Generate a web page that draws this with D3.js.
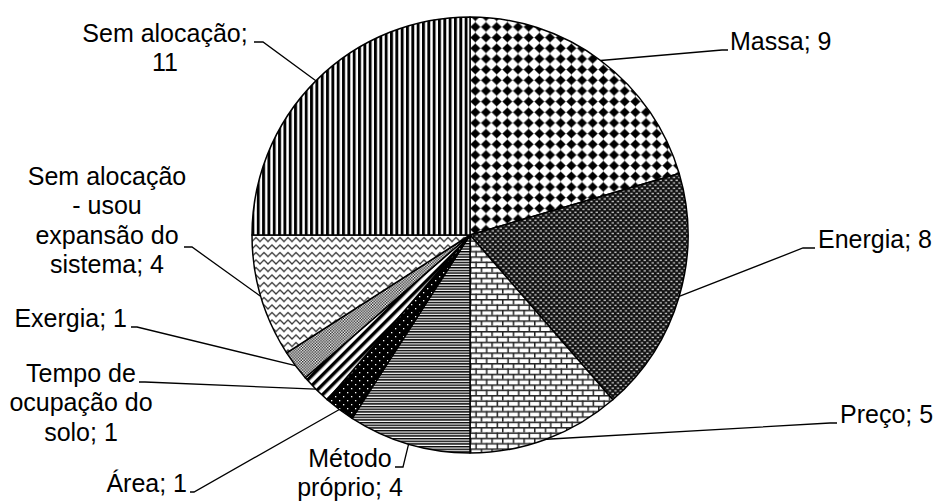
<!DOCTYPE html>
<html>
<head>
<meta charset="utf-8">
<script src="https://cdn.jsdelivr.net/npm/d3@7"></script>
<style>
  html, body { margin: 0; padding: 0; background: #fff; }
  svg { display: block; }
  text { font-family: "Liberation Sans", Arial, sans-serif; font-size: 25px; fill: #000; }
</style>
</head>
<body>
<svg id="chart" width="936" height="503"></svg>
<script>
// Allocation methods and number of studies using each
const categories = [
  "Massa", "Energia", "Preço", "Método próprio", "Área",
  "Tempo de ocupação do solo", "Exergia",
  "Sem alocação - usou expansão do sistema", "Sem alocação"
];
const values = [9, 8, 5, 4, 1, 1, 1, 4, 11];

// Label wording, split into lines; {v} is replaced by the slice value
const labelWrap = [
  ["Massa; {v}"],
  ["Energia; {v}"],
  ["Preço; {v}"],
  ["Método", "próprio; {v}"],
  ["Área; {v}"],
  ["Tempo de", "ocupação do", "solo; {v}"],
  ["Exergia; {v}"],
  ["Sem alocação", "- usou", "expansão do", "sistema; {v}"],
  ["Sem alocação;", "{v}"]
];

// Fill pattern for each slice
const patternIds = ["diamond", "darkweave", "brick", "hlines", "darkdots",
                    "diag", "checker", "wave", "vlines"];

// Label placement: text anchor point, first baseline, leader elbow and end
const labelLayout = [
  { x: 730, y: 50,  anchor: "start",  elbow: [722, 50],  end: [728, 50] },
  { x: 818, y: 248, anchor: "start",  elbow: [803, 248], end: [815, 248] },
  { x: 840, y: 423, anchor: "start",  elbow: [830, 423], end: [837, 423] },
  { x: 350, y: 467, anchor: "middle", elbow: [403, 467], end: [395, 467] },
  { x: 187, y: 492, anchor: "end",    elbow: [194, 492], end: [190, 492] },
  { x: 81,  y: 382, anchor: "middle", elbow: [145, 382], end: [139, 382] },
  { x: 127, y: 327, anchor: "end",    elbow: [137, 327], end: [131, 327] },
  { x: 107, y: 185, anchor: "middle", elbow: [192, 247], end: [184, 247] },
  { x: 165, y: 42,  anchor: "middle", elbow: [263, 42],  end: [254, 42] }
];
const lineStep = 29.4;

const svg = d3.select("#chart");
const cx = 470, cy = 235, radius = 218;

// ---- pattern definitions ----
const defs = svg.append("defs");
function pat(id, w, h, transform) {
  const p = defs.append("pattern").attr("id", id)
    .attr("patternUnits", "userSpaceOnUse").attr("width", w).attr("height", h);
  if (transform) p.attr("patternTransform", transform);
  return p;
}
// solid diamonds
{
  const p = pat("diamond", 10.67, 10.67);
  p.append("rect").attr("width", 10.67).attr("height", 10.67).attr("fill", "#fff");
  p.append("path").attr("d", "M5.33,0V10.67M0,5.33H10.67").attr("stroke", "#888").attr("stroke-width", 0.8);
  p.append("path").attr("d", "M5.33,1.3L9.36,5.33L5.33,9.36L1.3,5.33Z")
    .attr("fill", "#000").attr("stroke", "#000").attr("stroke-width", 1.2).attr("stroke-linejoin", "round");
}
// dark weave
{
  const p = pat("darkweave", 5.33, 5.33);
  p.append("rect").attr("width", 5.33).attr("height", 5.33).attr("fill", "#111");
  p.append("rect").attr("x", 0.4).attr("y", 0.6).attr("width", 2.2).attr("height", 1.3).attr("fill", "#ddd");
  p.append("rect").attr("x", 3.07).attr("y", 3.27).attr("width", 2.2).attr("height", 1.3).attr("fill", "#ddd");
}
// horizontal brick
{
  const p = pat("brick", 10.67, 10.67);
  p.append("rect").attr("width", 10.67).attr("height", 10.67).attr("fill", "#fff");
  p.append("rect").attr("x", 0).attr("y", 0).attr("width", 10.67).attr("height", 1.5).attr("fill", "#222");
  p.append("rect").attr("x", 0).attr("y", 5.33).attr("width", 10.67).attr("height", 1.5).attr("fill", "#222");
  p.append("rect").attr("x", 0).attr("y", 0).attr("width", 1.5).attr("height", 5.33).attr("fill", "#222");
  p.append("rect").attr("x", 5.33).attr("y", 5.33).attr("width", 1.5).attr("height", 5.33).attr("fill", "#222");
}
// narrow horizontal lines
{
  const p = pat("hlines", 4, 2.67);
  p.append("rect").attr("width", 4).attr("height", 2.67).attr("fill", "#fff");
  p.append("rect").attr("width", 4).attr("height", 1.45).attr("fill", "#000");
}
// black with sparse white dots
{
  const p = pat("darkdots", 8, 8);
  p.append("rect").attr("width", 8).attr("height", 8).attr("fill", "#000");
  p.append("rect").attr("x", 1).attr("y", 1).attr("width", 1.3).attr("height", 1.3).attr("fill", "#fff");
  p.append("rect").attr("x", 5).attr("y", 5).attr("width", 1.3).attr("height", 1.3).attr("fill", "#fff");
}
// wide upward diagonal stripes
{
  const p = pat("diag", 7, 7, "rotate(45)");
  p.append("rect").attr("width", 7).attr("height", 7).attr("fill", "#fff");
  p.append("rect").attr("width", 3.4).attr("height", 7).attr("fill", "#000");
}
// fine checker
{
  const p = pat("checker", 2.8, 2.8);
  p.append("rect").attr("width", 2.8).attr("height", 2.8).attr("fill", "#fff");
  p.append("rect").attr("width", 1.4).attr("height", 1.4).attr("fill", "#222");
  p.append("rect").attr("x", 1.4).attr("y", 1.4).attr("width", 1.4).attr("height", 1.4).attr("fill", "#222");
}
// wave
{
  const p = pat("wave", 8, 7.5);
  p.append("rect").attr("width", 8).attr("height", 7.5).attr("fill", "#fff");
  p.append("path").attr("d", "M0,4.5L2,2.5L4,4.5L6,6.5L8,4.5")
    .attr("fill", "none").attr("stroke", "#333").attr("stroke-width", 1.3);
  p.append("path").attr("d", "M-2,6.5L0,4.5M8,4.5L10,2.5")
    .attr("fill", "none").attr("stroke", "#333").attr("stroke-width", 1.3);
}
// vertical lines
{
  const p = pat("vlines", 5.33, 4);
  p.append("rect").attr("width", 5.33).attr("height", 4).attr("fill", "#fff");
  p.append("rect").attr("width", 2.9).attr("height", 4).attr("fill", "#000");
}

// ---- pie ----
const data = categories.map((c, i) => ({ name: c, value: values[i], i }));
const pie = d3.pie().value(d => d.value).sort(null).startAngle(0).endAngle(2 * Math.PI);
const arcs = pie(data);
const arc = d3.arc().innerRadius(0).outerRadius(radius);
const edge = d3.arc().innerRadius(radius).outerRadius(radius);

const g = svg.append("g").attr("transform", `translate(${cx},${cy})`);
g.selectAll("path.slice").data(arcs).enter().append("path")
  .attr("class", "slice")
  .attr("d", arc)
  .attr("fill", d => `url(#${patternIds[d.data.i]})`)
  .attr("stroke", "#000")
  .attr("stroke-width", 1.5)
  .attr("stroke-linejoin", "round");

// ---- leader lines ----
svg.append("g").selectAll("path.leader").data(arcs).enter().append("path")
  .attr("class", "leader")
  .attr("fill", "none")
  .attr("stroke", "#000")
  .attr("stroke-width", 1.3)
  .attr("d", d => {
    const [px, py] = edge.centroid(d);
    const L = labelLayout[d.data.i];
    return d3.line()([[cx + px, cy + py], L.elbow, L.end]);
  });

// ---- labels ----
const lg = svg.append("g");
arcs.forEach(d => {
  const i = d.data.i;
  const L = labelLayout[i];
  const t = lg.append("text").attr("text-anchor", L.anchor);
  labelWrap[i].forEach((ln, k) => {
    t.append("tspan").attr("x", L.x).attr("y", L.y + k * lineStep)
      .text(ln.replace("{v}", d.data.value));
  });
});
</script>
</body>
</html>
